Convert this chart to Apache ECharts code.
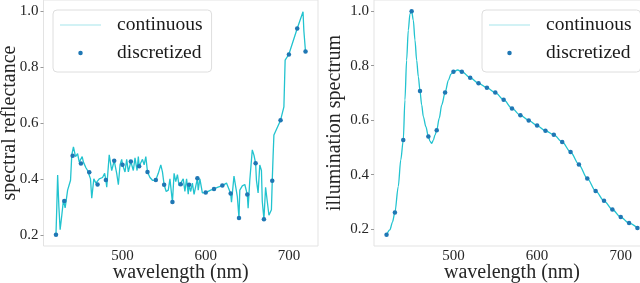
<!DOCTYPE html>
<html>
<head>
<meta charset="utf-8">
<script src="https://cdn.jsdelivr.net/npm/echarts@6/dist/echarts.min.js"></script>
<style>
html,body{margin:0;padding:0;background:#fff;}
#chart{width:640px;height:283px;}
</style>
</head>
<body>
<div id="chart"></div>
<script>
// ---- data ----
const discreteWavelengths = [420,430,440,450,460,470,480,490,500,510,520,530,540,550,560,570,580,590,600,610,620,630,640,650,660,670,680,690,700,710,720];
const reflectanceDiscrete = [0.200,0.321,0.483,0.455,0.424,0.380,0.396,0.465,0.451,0.462,0.445,0.425,0.396,0.379,0.317,0.381,0.379,0.402,0.351,0.364,0.376,0.348,0.260,0.344,0.456,0.256,0.393,0.610,0.845,0.938,0.856];
const illuminationDiscrete = [0.179,0.261,0.527,1.000,0.707,0.540,0.563,0.701,0.778,0.778,0.756,0.735,0.719,0.701,0.675,0.643,0.618,0.599,0.580,0.561,0.546,0.520,0.483,0.437,0.386,0.340,0.304,0.272,0.244,0.222,0.204];

const reflectanceFineWl = [420,421,422,423.5,425,427,429,431,434,436,437.5,439,441,442,443.5,446,448,450,451.5,453,456,458,460,461.5,463,465.5,468,470,472,476,478.5,480,481,484,487,490,493,495,497,499,500,503,505,507,510,513,515,517.5,519,520,522,524,526,528,530,533,536,538,540,543,546,548,550,552.5,555,557,560,562,564,566,568,570,573,575,577,579,580,582,584,586,590,591,593,596,600,602,606,610,614,620,622,625,627,630,631,634,636,638,640,641,644,647,650,651,653,656,658,660,661,663,665,667,668,670,672,674,676,678,679,680,681,682,690,694,695.5,700,710,717,718,720];
const reflectanceFine = [0.200,0.300,0.414,0.300,0.218,0.270,0.325,0.296,0.360,0.380,0.395,0.486,0.515,0.510,0.480,0.490,0.460,0.455,0.480,0.460,0.440,0.430,0.424,0.400,0.331,0.400,0.385,0.380,0.400,0.405,0.420,0.396,0.370,0.486,0.430,0.465,0.420,0.379,0.450,0.470,0.451,0.425,0.470,0.425,0.462,0.430,0.475,0.430,0.480,0.445,0.440,0.470,0.450,0.480,0.425,0.405,0.395,0.400,0.396,0.420,0.450,0.425,0.379,0.355,0.360,0.400,0.317,0.420,0.390,0.415,0.375,0.381,0.400,0.355,0.400,0.345,0.379,0.355,0.385,0.345,0.402,0.360,0.400,0.350,0.351,0.355,0.360,0.364,0.370,0.376,0.380,0.385,0.390,0.348,0.317,0.410,0.415,0.337,0.260,0.360,0.375,0.380,0.344,0.295,0.395,0.504,0.485,0.456,0.395,0.350,0.450,0.430,0.320,0.256,0.370,0.320,0.270,0.270,0.290,0.393,0.480,0.557,0.610,0.658,0.825,0.846,0.938,0.998,0.930,0.855];

const illuminationFineWl = [420,424,427,430,434,437,440,442,444,446,448,450,452,454,456,458,460,462,464,467,470,472,474,476,478,480,483,486,490,494,497,500,505,510,520,530,540,550,560,570,580,590,600,610,620,630,640,650,660,670,680,690,700,710,720];
const illuminationFine = [0.179,0.197,0.225,0.261,0.356,0.454,0.527,0.674,0.820,0.930,0.990,1.000,0.967,0.894,0.820,0.760,0.707,0.656,0.613,0.576,0.540,0.522,0.515,0.527,0.546,0.563,0.607,0.656,0.701,0.747,0.769,0.778,0.784,0.778,0.756,0.735,0.719,0.701,0.675,0.643,0.618,0.599,0.580,0.561,0.546,0.520,0.483,0.437,0.386,0.340,0.304,0.272,0.244,0.222,0.204];

const xTicks = [500,600,700];
const yTicks = [0.2,0.4,0.6,0.8,1.0];

// ---- chart ----
const pair = (xs, ys) => xs.map((x, i) => [x, ys[i]]);
const SERIF = 'Liberation Serif';
const lineColor = '#22c3cf';
const dotColor = '#1f77b4';

function xAxis(gridIndex){
  return {
    gridIndex, type:'value', min:405, max:735,
    axisLine:{show:false}, axisTick:{show:false}, splitLine:{show:false},
    axisLabel:{customValues:xTicks, fontFamily:SERIF, fontSize:15, color:'#262626', margin:3},
    name:'wavelength (nm)', nameLocation:'middle', nameGap:17, nameMoveOverlap:false,
    nameTextStyle:{fontFamily:SERIF, fontSize:20, color:'#262626'}
  };
}
function yAxis(gridIndex, min, max, name, gap, margin){
  return {
    gridIndex, type:'value', min, max,
    axisLine:{show:false}, splitLine:{show:false},
    axisTick:{show:true, customValues:yTicks, length:3, lineStyle:{color:'#999'}},
    axisLabel:{customValues:yTicks, formatter:v=>v.toFixed(1), fontFamily:SERIF, fontSize:15, color:'#262626', margin},
    name, nameLocation:'middle', nameGap:gap, nameMoveOverlap:false,
    nameTextStyle:{fontFamily:SERIF, fontSize:20, color:'#262626'}
  };
}
function legend(left){
  return {
    show:true, left, top:10, orient:'vertical',
    padding:[4,9,8,7], itemGap:6, itemWidth:41, itemHeight:4.5,
    backgroundColor:'#ffffff', borderColor:'#dedede', borderWidth:1, borderRadius:4,
    textStyle:{fontFamily:SERIF, fontSize:19.5, color:'#1a1a1a', lineHeight:22, padding:[0,0,0,11]},
    data:[
      {name:'continuous', icon:'path://M0,0L41,0L41,1L0,1Z', itemStyle:{color:'#a6e6ec', borderWidth:0}},
      {name:'discretized', icon:'circle'}
    ]
  };
}

const chart = echarts.init(document.getElementById('chart'), null, {renderer:'canvas'});
chart.setOption({
  animation:false,
  backgroundColor:'#fff',
  grid:[
    {left:43.5, top:0, width:274.5, height:246, show:true, borderColor:'#e3e3e3', borderWidth:1, backgroundColor:'transparent', outerBoundsMode:'none', containLabel:false},
    {left:374, top:0, width:276, height:246, show:true, borderColor:'#e3e3e3', borderWidth:1, backgroundColor:'transparent', outerBoundsMode:'none', containLabel:false}
  ],
  xAxis:[xAxis(0), xAxis(1)],
  yAxis:[
    yAxis(0, 0.16, 1.04, 'spectral reflectance', 24, 5),
    yAxis(1, 0.138, 1.041, 'illumination spectrum', 29, 5)
  ],
  legend:[legend(53), legend(482)],
  series:[
    {name:'continuous', type:'line', xAxisIndex:0, yAxisIndex:0, data:pair(reflectanceFineWl, reflectanceFine),
     symbol:'none', lineStyle:{color:lineColor, width:1.3}, itemStyle:{color:lineColor}},
    {name:'discretized', type:'scatter', xAxisIndex:0, yAxisIndex:0, data:pair(discreteWavelengths, reflectanceDiscrete),
     symbol:'circle', symbolSize:4.5, itemStyle:{color:dotColor, opacity:1}, z:3},
    {name:'continuous', type:'line', xAxisIndex:1, yAxisIndex:1, data:pair(illuminationFineWl, illuminationFine),
     symbol:'none', smooth:0.3, smoothMonotone:'x', lineStyle:{color:lineColor, width:1.3}, itemStyle:{color:lineColor}},
    {name:'discretized', type:'scatter', xAxisIndex:1, yAxisIndex:1, data:pair(discreteWavelengths, illuminationDiscrete),
     symbol:'circle', symbolSize:4.5, itemStyle:{color:dotColor, opacity:1}, z:3}
  ]
});
</script>
</body>
</html>
